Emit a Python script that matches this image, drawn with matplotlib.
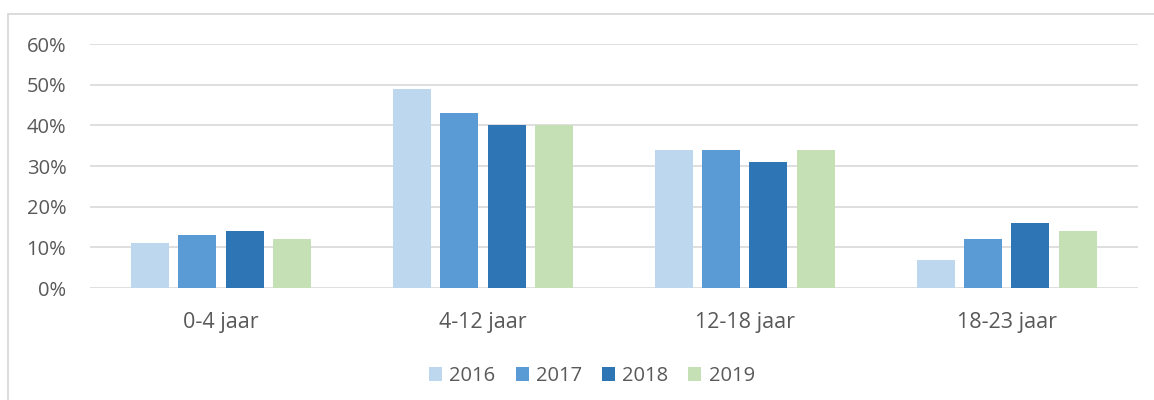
import matplotlib.pyplot as plt
import matplotlib.patches as mpatches
import numpy as np

# Age groups and the share per year
categories = ['0-4 jaar', '4-12 jaar', '12-18 jaar', '18-23 jaar']
years = ['2016', '2017', '2018', '2019']
values_2016 = [11, 49, 34, 7]
values_2017 = [13, 43, 34, 12]
values_2018 = [14, 40, 31, 16]
values_2019 = [12, 40, 34, 14]
y_ticks = [0, 10, 20, 30, 40, 50, 60]

series = [values_2016, values_2017, values_2018, values_2019]
colors = ['#bdd7ee', '#5b9bd5', '#2e75b6', '#c5e0b4']
text_color = '#595959'
grid_color = '#d9d9d9'

plt.rcParams['font.family'] = ['Open Sans', 'DejaVu Sans']

fig = plt.figure(figsize=(11.54, 4.0), dpi=100)
ax = fig.add_axes([0.078, 0.28, 0.908, 0.61])

# Light frame around the chart area (open to the right and bottom)
frame = mpatches.Rectangle((8 / 1154, -0.5), 2.0, 1.5 - 14 / 400,
                           transform=fig.transFigure, fill=False,
                           edgecolor=grid_color, linewidth=1.3, zorder=0)
fig.patches.append(frame)

x = np.arange(len(categories))
step = 0.18
width = 0.145
for i, (vals, col, yr) in enumerate(zip(series, colors, years)):
    ax.bar(x + (i - 1.5) * step, vals, width=width, color=col, label=yr, zorder=3)

ax.set_xlim(-0.5, 3.5)
ax.set_ylim(0, 60)
ax.set_yticks(y_ticks)
ax.set_yticklabels([f'{t}%' for t in y_ticks])
ax.set_xticks(x)
ax.set_xticklabels(categories)
ax.tick_params(axis='y', length=0, labelsize=14.5, colors=text_color, pad=17)
ax.tick_params(axis='x', length=0, labelsize=15.5, colors=text_color, pad=17)

ax.grid(axis='y', color=grid_color, linewidth=1.2, zorder=0)
for s in ax.spines.values():
    s.set_visible(False)

leg = ax.legend(loc='upper center', bbox_to_anchor=(0.479, -0.245), ncol=4,
                frameon=False, fontsize=14.5, handlelength=0.65, handleheight=0.65,
                handletextpad=0.35, columnspacing=1.0)
for t in leg.get_texts():
    t.set_color(text_color)

fig.savefig('out.png', dpi=100)
